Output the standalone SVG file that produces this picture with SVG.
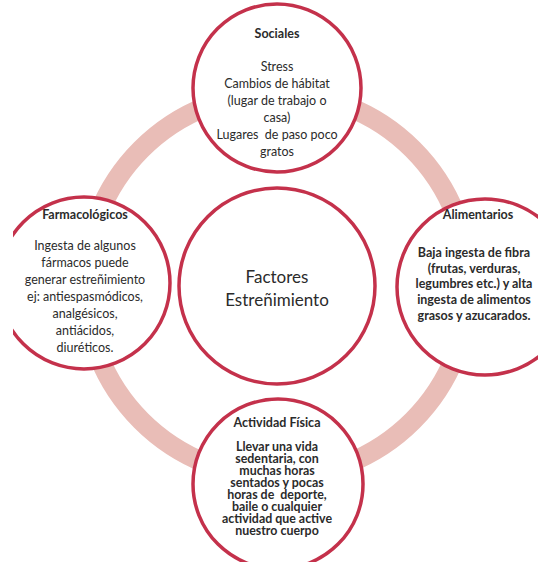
<svg xmlns="http://www.w3.org/2000/svg" width="538" height="562" viewBox="0 0 538 562">
<style>
.node{fill:#ffffff;stroke:#c4314b;stroke-width:3.5}
.ring{fill:none;stroke:#e9bdb7;stroke-width:20}
text{font-family:Lato,"Liberation Sans",sans-serif;fill:#2b2b2b;text-anchor:middle}
.h{font-weight:bold;font-size:12.5px}
.b{font-size:12.5px}
.bb{font-weight:bold;font-size:12.5px}
.sm{font-weight:bold;font-size:12.4px}
.c{font-size:17px}
</style>
<defs>
<clipPath id="clipL"><rect x="13" y="0" width="525" height="562"/></clipPath>
</defs>
<rect width="538" height="562" fill="#ffffff"/>
<g id="connectors">
<circle class="ring" cx="277" cy="285" r="192"/>
</g>
<g id="sociales">
<circle class="node" cx="277" cy="88" r="84"/>
<text class="h" x="277" y="38">Sociales</text>
<text class="b" x="277" y="71">Stress</text>
<text class="b" x="277" y="88">Cambios de hábitat</text>
<text class="b" x="277" y="105">(lugar de trabajo o</text>
<text class="b" x="277" y="122">casa)</text>
<text class="b" x="277" y="139" xml:space="preserve">Lugares  de paso poco</text>
<text class="b" x="277" y="156">gratos</text>
</g>
<g id="farmacologicos">
<circle class="node" cx="84" cy="283" r="86" clip-path="url(#clipL)"/>
<text class="h" x="85" y="219">Farmacológicos</text>
<text class="b" x="85" y="250">Ingesta de algunos</text>
<text class="b" x="85" y="267">fármacos puede</text>
<text class="b" x="85" y="284">generar estreñimiento</text>
<text class="b" x="85" y="301">ej: antiespasmódicos,</text>
<text class="b" x="85" y="318">analgésicos,</text>
<text class="b" x="85" y="335">antiácidos,</text>
<text class="b" x="85" y="352">diuréticos.</text>
</g>
<g id="alimentarios">
<circle class="node" cx="485" cy="287" r="88"/>
<text class="h" x="478" y="219">Alimentarios</text>
<text class="bb" x="474" y="257">Baja ingesta de fibra</text>
<text class="bb" x="474" y="273">(frutas, verduras,</text>
<text class="bb" x="474" y="288">legumbres etc.) y alta</text>
<text class="bb" x="474" y="304">ingesta de alimentos</text>
<text class="bb" x="474" y="320">grasos y azucarados.</text>
</g>
<g id="actividad">
<circle class="node" cx="278" cy="484" r="85"/>
<text class="h" x="277" y="427">Actividad Física</text>
<text class="sm" x="277" y="451">Llevar una vida</text>
<text class="sm" x="277" y="463">sedentaria, con</text>
<text class="sm" x="277" y="475">muchas horas</text>
<text class="sm" x="277" y="487">sentados y pocas</text>
<text class="sm" x="277" y="499" xml:space="preserve">horas de  deporte,</text>
<text class="sm" x="277" y="511">baile o cualquier</text>
<text class="sm" x="277" y="523">actividad que active</text>
<text class="sm" x="277" y="535">nuestro cuerpo</text>
</g>
<g id="factores">
<circle class="node" cx="277" cy="286" r="98"/>
<text class="c" x="277" y="283">Factores</text>
<text class="c" x="277" y="306">Estreñimiento</text>
</g>
</svg>
